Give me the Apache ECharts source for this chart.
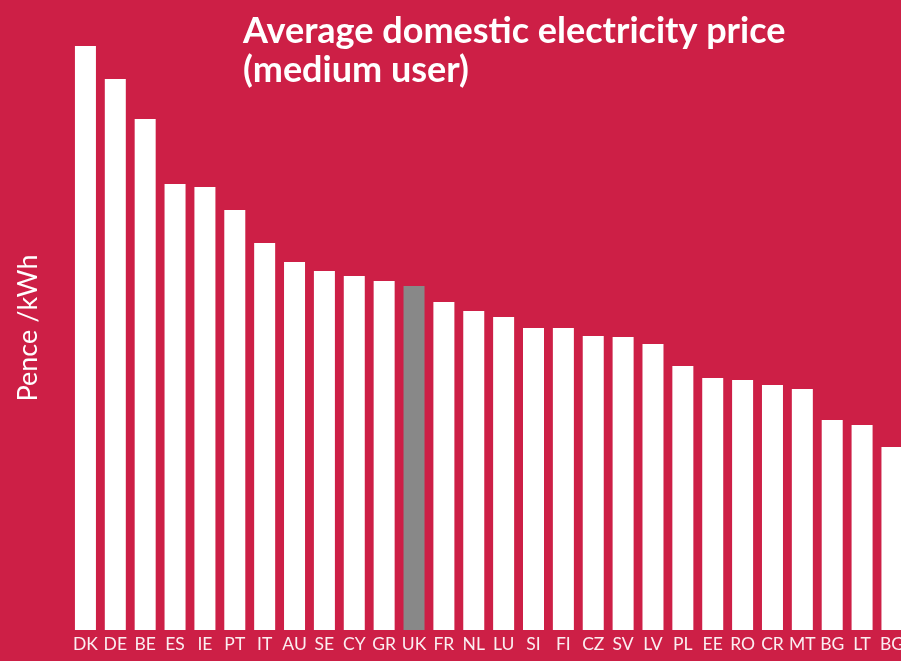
<!DOCTYPE html>
<html>
<head>
<meta charset="utf-8">
<style>
html,body{margin:0;padding:0;background:#CD1F46;overflow:hidden;width:901px;height:661px;}
#chart{width:907px;height:661px;}
</style>
<script src="https://cdn.jsdelivr.net/npm/echarts@6/dist/echarts.min.js"></script>
</head>
<body>
<div id="chart"></div>
<script>
const countries = ['DK','DE','BE','ES','IE','PT','IT','AU','SE','CY','GR','UK','FR','NL','LU','SI','FI','CZ','SV','LV','PL','EE','RO','CR','MT','BG','LT','BG'];
const prices = [29.2,27.55,25.55,22.3,22.15,21.0,19.35,18.4,17.95,17.7,17.45,17.2,16.4,15.95,15.65,15.1,15.1,14.7,14.65,14.3,13.2,12.6,12.5,12.25,12.05,10.5,10.25,9.15];
const highlight = 'UK';

const chart = echarts.init(document.getElementById('chart'), null, {renderer:'canvas'});
chart.setOption({
  backgroundColor: '#CD1F46',
  animation: false,
  title: {
    text: 'Average domestic electricity price\n(medium user)',
    left: 238,
    top: 7,
    textStyle: {color:'#ffffff', fontFamily:'Lato', fontWeight:'bold', fontSize:36, lineHeight:39}
  },
  grid: {left: 70.5, right: 0, top: 26, bottom: 31},
  xAxis: {
    type: 'category',
    data: countries,
    axisLine: {show:false},
    axisTick: {show:false},
    axisLabel: {interval:0, color:'#fbeef1', fontFamily:'Lato', fontSize:17.5, margin:5}
  },
  yAxis: {
    type: 'value',
    min: 0,
    max: 30.2,
    name: 'Pence /kWh',
    nameLocation: 'middle',
    nameRotate: 90,
    nameGap: 29,
    nameTextStyle: {color:'#ffffff', fontFamily:'Lato', fontSize:27},
    axisLabel: {show:false},
    axisLine: {show:false},
    axisTick: {show:false},
    splitLine: {show:false}
  },
  series: [{
    type: 'bar',
    barWidth: 21,
    data: prices.map((v,i) => ({value:v, itemStyle:{color: countries[i]===highlight ? '#888888' : '#ffffff'}}))
  }]
});
</script>
</body>
</html>
